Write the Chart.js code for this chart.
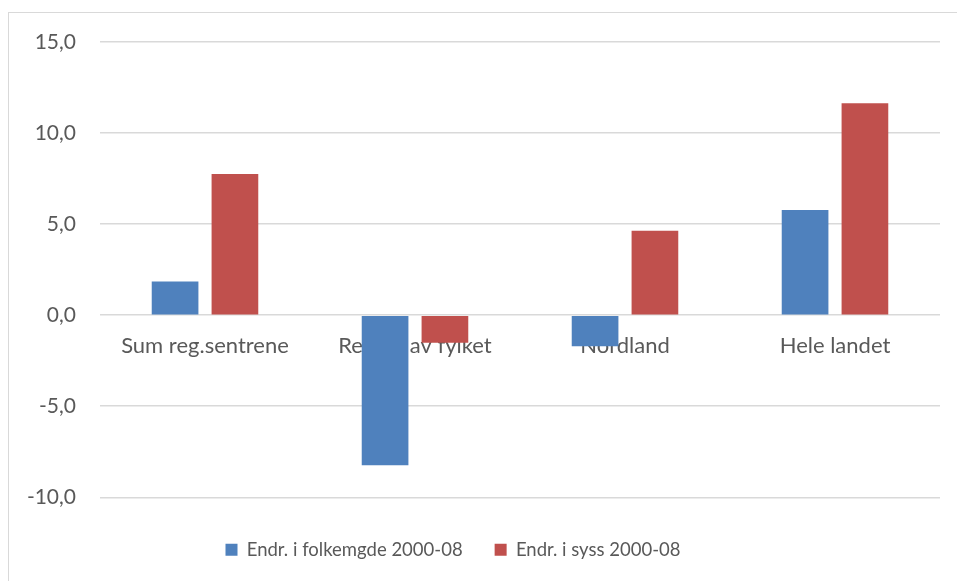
<!DOCTYPE html>
<html>
<head>
<meta charset="utf-8">
<script src="https://cdn.jsdelivr.net/npm/chart.js@4.4.1/dist/chart.umd.min.js"></script>
<style>
  body { margin: 0; background: #fff; }
  .frame { position: absolute; left: 8px; top: 12px; width: 960px; height: 580px;
           border-left: 1px solid #d9d9d9; border-top: 1px solid #d9d9d9; }
  .wrap { position: absolute; left: 0; top: 0; width: 957px; height: 581px; }
</style>
</head>
<body>
<div class="frame"></div>
<div class="wrap"><canvas id="chart"></canvas></div>
<script>
const categories = ["Sum reg.sentrene", "Resten av fylket", "Nordland", "Hele landet"];
const folkemengde = [1.85, -8.24, -1.71, 5.78];
const sysselsetting = [7.75, -1.52, 4.63, 11.64];
const seriesNames = ["Endr. i folkemgde 2000-08", "Endr. i syss 2000-08"];

const textColor = "#595959";
const fontFamily = "Lato, 'Open Sans', sans-serif";

// legend sits a bit left of canvas centre in the original
const shiftLegend = {
  id: "shiftLegend",
  afterLayout(chart) {
    chart.legend.left -= 17;
    chart.legend.right -= 17;
  }
};

new Chart(document.getElementById("chart"), {
  type: "bar",
  data: {
    labels: categories,
    datasets: [
      { label: seriesNames[0], data: folkemengde, backgroundColor: "#4f81bd" },
      { label: seriesNames[1], data: sysselsetting, backgroundColor: "#c0504d" }
    ]
  },
  plugins: [shiftLegend],
  options: {
    responsive: true,
    maintainAspectRatio: false,
    animation: false,
    categoryPercentage: 0.57,
    barPercentage: 0.78,
    layout: { padding: { left: 0, right: 17, top: 42, bottom: 12 } },
    plugins: {
      tooltip: { enabled: false },
      legend: {
        position: "bottom",
        // empty title only adds a gap above the legend items
        title: { display: true, text: " ", font: { size: 1 }, padding: { top: 0, bottom: 10 } },
        labels: {
          color: textColor,
          font: { family: fontFamily, size: 18.5 },
          boxWidth: 12,
          boxHeight: 12,
          padding: 32
        }
      }
    },
    scales: {
      x: {
        position: { y: 0 },
        grid: { display: false, drawTicks: false },
        border: { display: false },
        ticks: { color: textColor, font: { family: fontFamily, size: 22 }, padding: 18, maxRotation: 0 },
        afterFit: s => { s.height = 0; }
      },
      y: {
        min: -10,
        max: 15,
        grid: { color: "#d9d9d9", lineWidth: 1.5, drawTicks: false },
        border: { display: false },
        ticks: {
          stepSize: 5,
          color: textColor,
          padding: 24,
          font: { family: fontFamily, size: 21 },
          callback: v => v.toFixed(1).replace(".", ",")
        },
        afterFit: s => { s.width = 100; }
      }
    }
  }
});
</script>
</body>
</html>
